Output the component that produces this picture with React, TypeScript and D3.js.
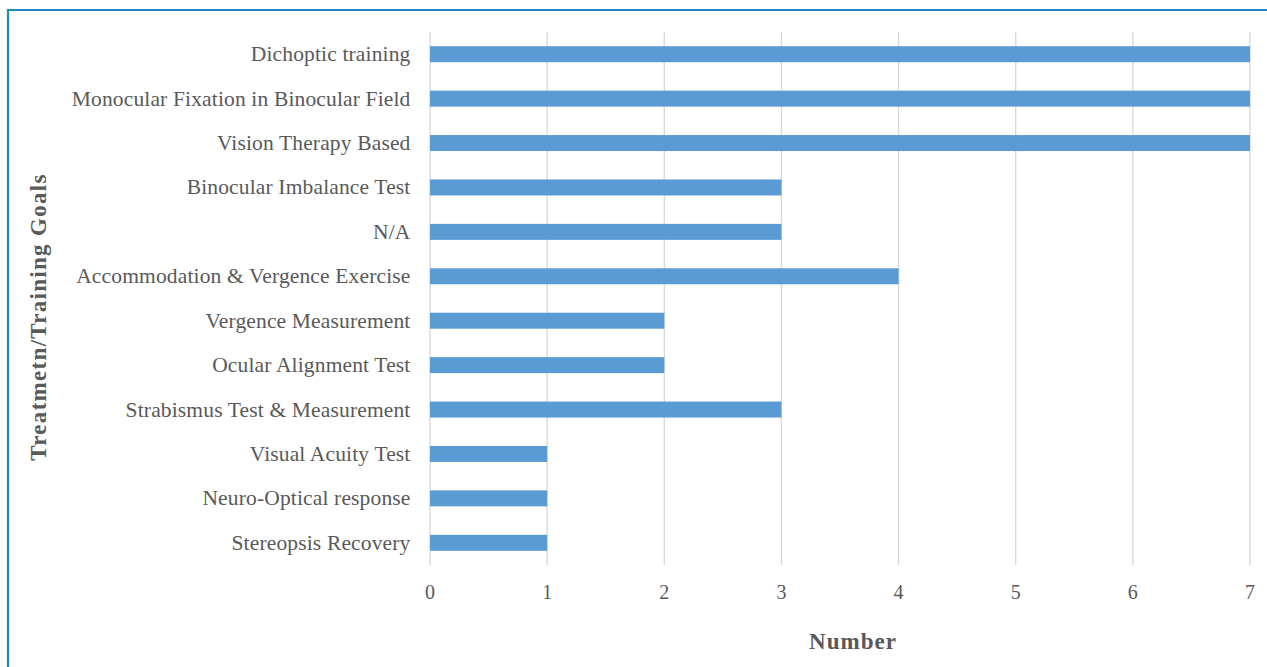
import React from "react";
import * as d3 from "d3";

const categories: string[] = [
  "Dichoptic training",
  "Monocular Fixation in Binocular Field",
  "Vision Therapy Based",
  "Binocular Imbalance Test",
  "N/A",
  "Accommodation & Vergence Exercise",
  "Vergence Measurement",
  "Ocular Alignment Test",
  "Strabismus Test & Measurement",
  "Visual Acuity Test",
  "Neuro-Optical response",
  "Stereopsis Recovery",
];

const counts: number[] = [7, 7, 7, 3, 3, 4, 2, 2, 3, 1, 1, 1];

const xTicks: number[] = [0, 1, 2, 3, 4, 5, 6, 7];

const xTitle = "Number";
const yTitle = "Treatmetn/Training Goals";

const W = 1267;
const H = 667;
const plot = { left: 430, right: 1250, top: 32, bottom: 565 };
const font = "'Liberation Serif', 'Times New Roman', serif";
const textColor = "#595959";

export default function App() {
  const x = d3.scaleLinear().domain([0, 7]).range([plot.left, plot.right]);
  const y = d3
    .scaleBand<string>()
    .domain(categories)
    .range([plot.top, plot.bottom])
    .paddingInner(0.64)
    .paddingOuter(0.32);

  return (
    <svg
      width={W}
      height={H}
      style={{ position: "absolute", left: 0, top: 0, background: "#fff" }}
    >
      {/* frame edges */}
      <line x1={8} x2={W} y1={10} y2={10} stroke="#1a8ac4" strokeWidth={2.2} />
      <line x1={8} x2={8} y1={9} y2={H} stroke="#1a8ac4" strokeWidth={2.2} />

      {/* vertical grid */}
      {xTicks.map((t) => (
        <line
          key={"g" + t}
          x1={x(t)}
          x2={x(t)}
          y1={plot.top}
          y2={plot.bottom}
          stroke="#d9d9d9"
          strokeWidth={1.4}
        />
      ))}

      {/* bars */}
      {categories.map((c, i) => (
        <rect
          key={c}
          x={x(0)}
          y={y(c)!}
          width={x(counts[i]) - x(0)}
          height={y.bandwidth()}
          fill="#5b9bd5"
        />
      ))}

      {/* category labels */}
      {categories.map((c) => (
        <text
          key={"l" + c}
          x={410.5}
          y={y(c)! + y.bandwidth() / 2}
          textAnchor="end"
          dominantBaseline="central"
          fontFamily={font}
          fontSize={21.5}
          letterSpacing={0.15}
          fill={textColor}
        >
          {c}
        </text>
      ))}

      {/* x tick labels */}
      {xTicks.map((t) => (
        <text
          key={"t" + t}
          x={x(t)}
          y={592}
          textAnchor="middle"
          dominantBaseline="central"
          fontFamily={font}
          fontSize={20}
          fill={textColor}
        >
          {t}
        </text>
      ))}

      {/* axis titles */}
      <text
        x={853}
        y={641}
        textAnchor="middle"
        dominantBaseline="central"
        fontFamily={font}
        fontSize={23}
        fontWeight="bold"
        letterSpacing={1}
        fill={textColor}
      >
        {xTitle}
      </text>
      <text
        transform={`translate(38, 317) rotate(-90)`}
        textAnchor="middle"
        dominantBaseline="central"
        fontFamily={font}
        fontSize={23}
        fontWeight="bold"
        letterSpacing={1.3}
        fill={textColor}
      >
        {yTitle}
      </text>
    </svg>
  );
}
